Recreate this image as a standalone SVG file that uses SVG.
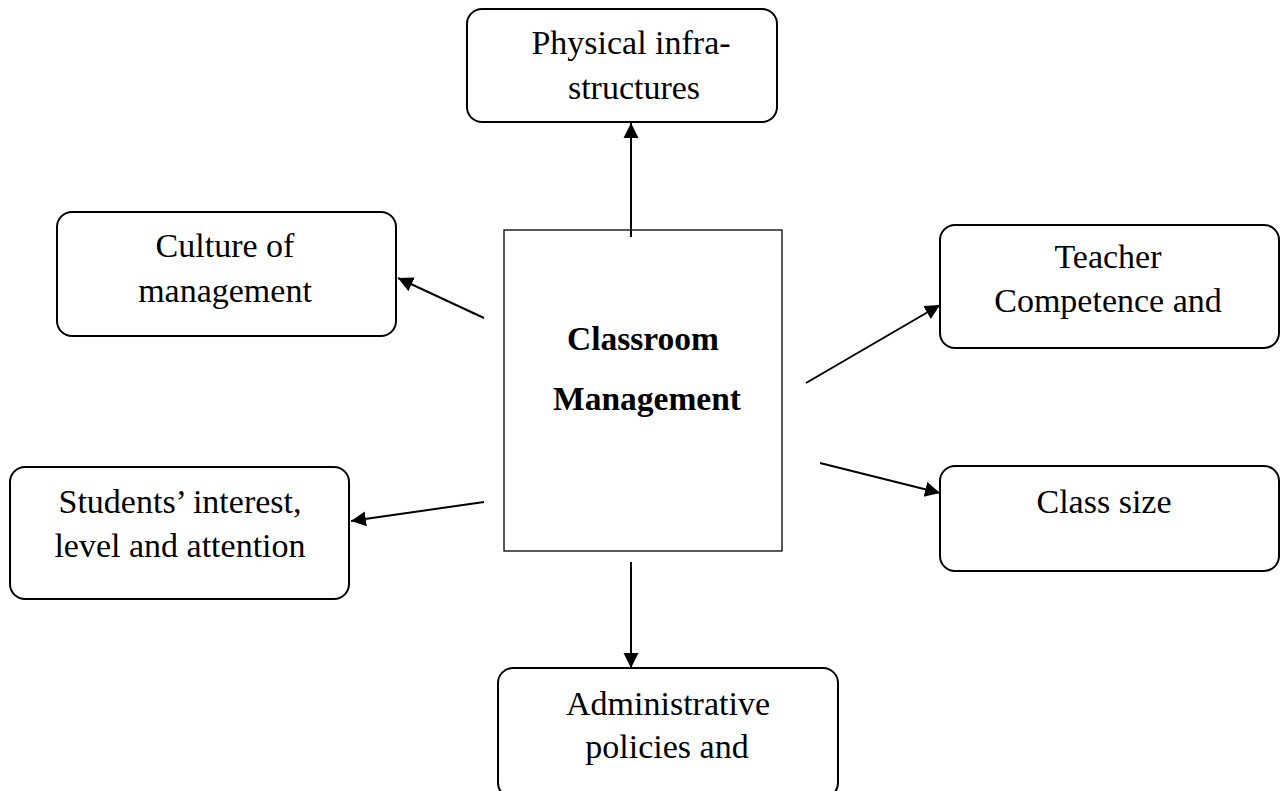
<svg xmlns="http://www.w3.org/2000/svg" width="1284" height="791" viewBox="0 0 1284 791">
<style>
.box{fill:#fff;stroke:#000;stroke-width:2}
.t{font-family:"Liberation Serif","Times New Roman",serif;font-size:34px;text-anchor:middle;fill:#000}
.b{font-weight:bold;font-size:33.5px}
.c{stroke:#000;stroke-width:2;fill:none;marker-end:url(#ah)}
</style>
<defs>
<marker id="ah" viewBox="0 0 10 10" refX="10" refY="5" markerWidth="7.5" markerHeight="8.5" markerUnits="strokeWidth" orient="auto">
<path d="M0,0 L10,5 L0,10 z" fill="#000"/>
</marker>
</defs>
<rect width="1284" height="791" fill="#fff"/>
<g id="center">
<rect x="504" y="230" width="278" height="321" fill="#fff" stroke="#000" stroke-width="1.3"/>
<text class="t b" x="643" y="350">Classroom</text>
<text class="t b" x="647" y="410">Management</text>
</g>
<g id="physical">
<rect class="box" x="467" y="9" width="310" height="113" rx="15"/>
<text class="t" x="631" y="54">Physical infra-</text>
<text class="t" x="634" y="99">structures</text>
</g>
<g id="culture">
<rect class="box" x="57" y="212" width="339" height="124" rx="15"/>
<text class="t" x="225" y="257">Culture of</text>
<text class="t" x="225" y="302">management</text>
</g>
<g id="teacher">
<rect class="box" x="940" y="225" width="339" height="123" rx="15"/>
<text class="t" x="1108" y="268">Teacher</text>
<text class="t" x="1108" y="312">Competence and</text>
</g>
<g id="students">
<rect class="box" x="10" y="467" width="339" height="132" rx="15"/>
<text class="t" x="180" y="513">Students’ interest,</text>
<text class="t" x="180" y="557">level and attention</text>
</g>
<g id="classsize">
<rect class="box" x="940" y="466" width="339" height="105" rx="15"/>
<text class="t" x="1104" y="513">Class size</text>
</g>
<g id="admin">
<rect class="box" x="498" y="668" width="340" height="130" rx="15"/>
<text class="t" x="668" y="715">Administrative</text>
<text class="t" x="667" y="758">policies and</text>
</g>
<g id="connectors">
<line class="c" x1="631" y1="237" x2="631" y2="123"/>
<line class="c" x1="484" y1="318" x2="398" y2="278"/>
<line class="c" x1="806" y1="383" x2="940" y2="305"/>
<line class="c" x1="484" y1="502" x2="351" y2="521"/>
<line class="c" x1="820" y1="463" x2="940" y2="493"/>
<line class="c" x1="631" y1="562" x2="631" y2="668"/>
</g>
</svg>
